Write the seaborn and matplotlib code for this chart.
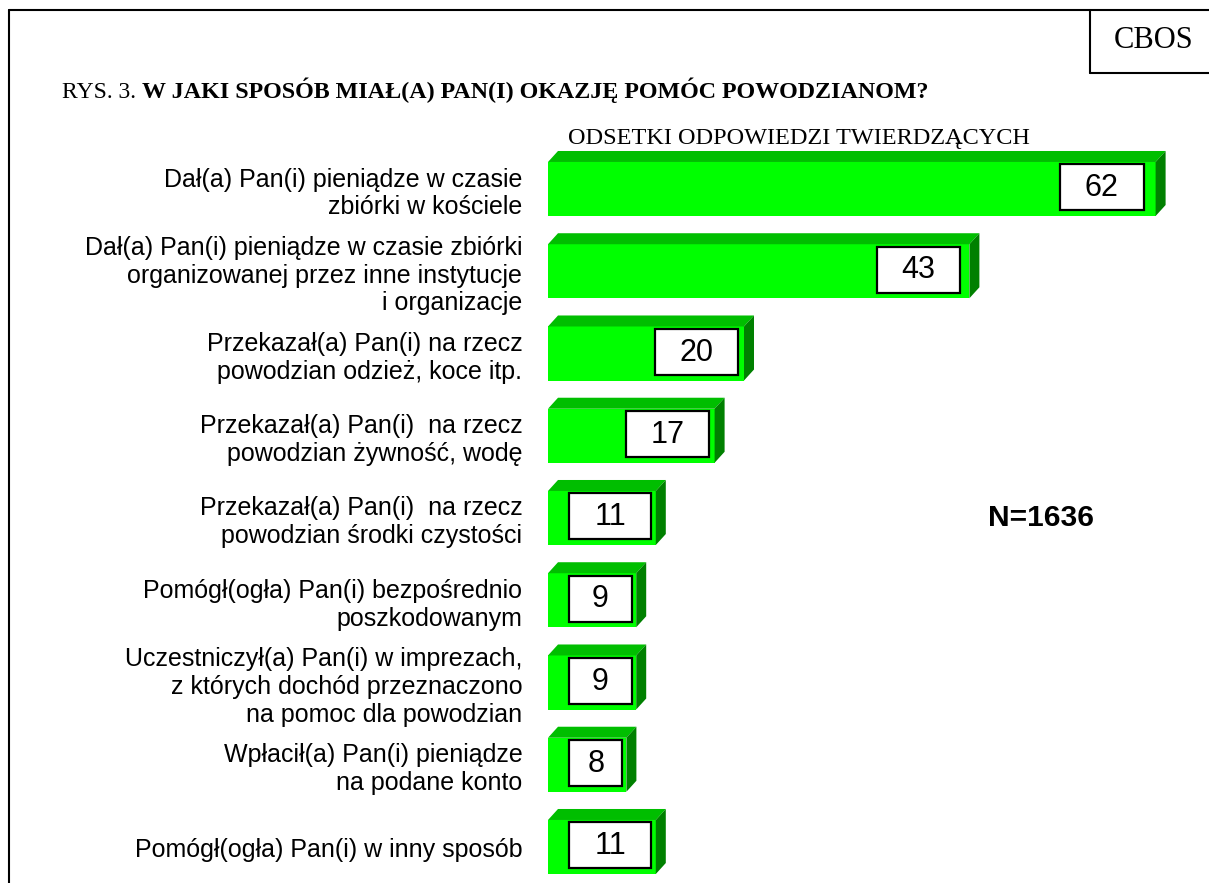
import matplotlib
matplotlib.use('Agg')
import matplotlib.pyplot as plt
import matplotlib.patches as mpatches
from matplotlib.lines import Line2D
import seaborn as sns
import pandas as pd

# data
labels = [
    'Dał(a) Pan(i) pieniądze w czasie\nzbiórki w kościele',
    'Dał(a) Pan(i) pieniądze w czasie zbiórki\norganizowanej przez inne instytucje\ni organizacje',
    'Przekazał(a) Pan(i) na rzecz\npowodzian odzież, koce itp.',
    'Przekazał(a) Pan(i)  na rzecz\npowodzian żywność, wodę',
    'Przekazał(a) Pan(i)  na rzecz\npowodzian środki czystości',
    'Pomógł(ogła) Pan(i) bezpośrednio\nposzkodowanym',
    'Uczestniczył(a) Pan(i) w imprezach,\nz których dochód przeznaczono\nna pomoc dla powodzian',
    'Wpłacił(a) Pan(i) pieniądze\nna podane konto',
    'Pomógł(ogła) Pan(i) w inny sposób',
]
values = [62, 43, 20, 17, 11, 9, 9, 8, 11]
sample_note = 'N=1636'

df = pd.DataFrame({'label': labels, 'value': values})

W, H = 1209, 883
sns.set_theme(style='white')
plt.rcParams['font.family'] = ['Liberation Sans', 'DejaVu Sans']
plt.rcParams['text.color'] = 'black'

fig = plt.figure(figsize=(W / 100, H / 100), dpi=100)
fig.patch.set_facecolor('white')

# axes placed so that x=0 sits at the bar start and 1 unit ~ 9.8 px
px_unit = 9.8
x0_px = 548
xmax = 67
top_px = 189 - 0.6 * 82.25
ax = fig.add_axes([x0_px / W, 0, xmax * px_unit / W, (H - top_px) / H])

sns.barplot(data=df, x='value', y='label', orient='h', color='#00FF00',
            saturation=1, width=0.657, edgecolor='none', linewidth=0, ax=ax)
ax.set_xlim(0, xmax)
ax.set_ylim((H - 189) / 82.25, -0.6)

dx = 10 / px_unit
dy = 11 / 82.25
for p, v in zip(ax.patches, values):
    bx, by, bw, bh = p.get_x(), p.get_y(), p.get_width(), p.get_height()
    top = mpatches.Polygon([(bx, by), (bx + bw, by), (bx + bw + dx, by - dy), (bx + dx, by - dy)],
                           closed=True, facecolor='#00BE00', edgecolor='none', clip_on=False)
    side = mpatches.Polygon([(bx + bw, by), (bx + bw + dx, by - dy), (bx + bw + dx, by + bh - dy), (bx + bw, by + bh)],
                            closed=True, facecolor='#008000', edgecolor='none', clip_on=False)
    ax.add_patch(top)
    ax.add_patch(side)
    # white value box
    right = bw * 0.985 - 0.3
    left = max(2.15, right - 8.5)
    cy = by + bh / 2 - 0.02
    bxh = 0.56
    ax.add_patch(mpatches.Rectangle((left, cy - bxh / 2), right - left, bxh,
                                    facecolor='white', edgecolor='black', linewidth=1.6, clip_on=False))
    ax.text((left + right) / 2, cy + 0.01, str(v), ha='center', va='center', fontsize=22, color='black')

ax.set_xlabel('')
ax.set_ylabel('')
ax.set_xticks([])
ax.tick_params(axis='y', length=0, pad=18.5, labelsize=18, labelcolor='black')
for t in ax.get_yticklabels():
    t.set_linespacing(1.2)
for s in ax.spines.values():
    s.set_visible(False)
ax.set_facecolor('none')


def fx(px):
    return px / W


def fy(py):
    return 1 - py / H


# frame
lc = 'black'
fig.add_artist(Line2D([fx(9), fx(9)], [fy(10), fy(H)], color=lc, lw=1.5))
fig.add_artist(Line2D([fx(9), fx(W)], [fy(10), fy(10)], color=lc, lw=1.5))
fig.add_artist(Line2D([fx(1090), fx(1090)], [fy(10), fy(73)], color=lc, lw=1.5))
fig.add_artist(Line2D([fx(1090), fx(W)], [fy(73), fy(73)], color=lc, lw=1.5))

serif = ['Liberation Serif', 'DejaVu Serif']
fig.text(fx(1154), fy(41), 'CBOS', family=serif, fontsize=22, ha='center', va='center')
t1 = fig.text(fx(62), fy(98), 'RYS. 3. ', family=serif, fontsize=17, ha='left', va='baseline')
fig.canvas.draw()
bb = t1.get_window_extent()
fig.text(bb.x1 / W, fy(98), 'W JAKI SPOSÓB MIAŁ(A) PAN(I) OKAZJĘ POMÓC POWODZIANOM?',
         family=serif, fontsize=17.3, fontweight='bold', ha='left', va='baseline')
fig.text(fx(568), fy(144), 'ODSETKI ODPOWIEDZI TWIERDZĄCYCH', family=serif, fontsize=17.5,
         ha='left', va='baseline')
fig.text(fx(988), fy(526), sample_note, fontsize=21.5, fontweight='bold', ha='left', va='baseline')

fig.savefig('out.png', dpi=100, facecolor='white')
